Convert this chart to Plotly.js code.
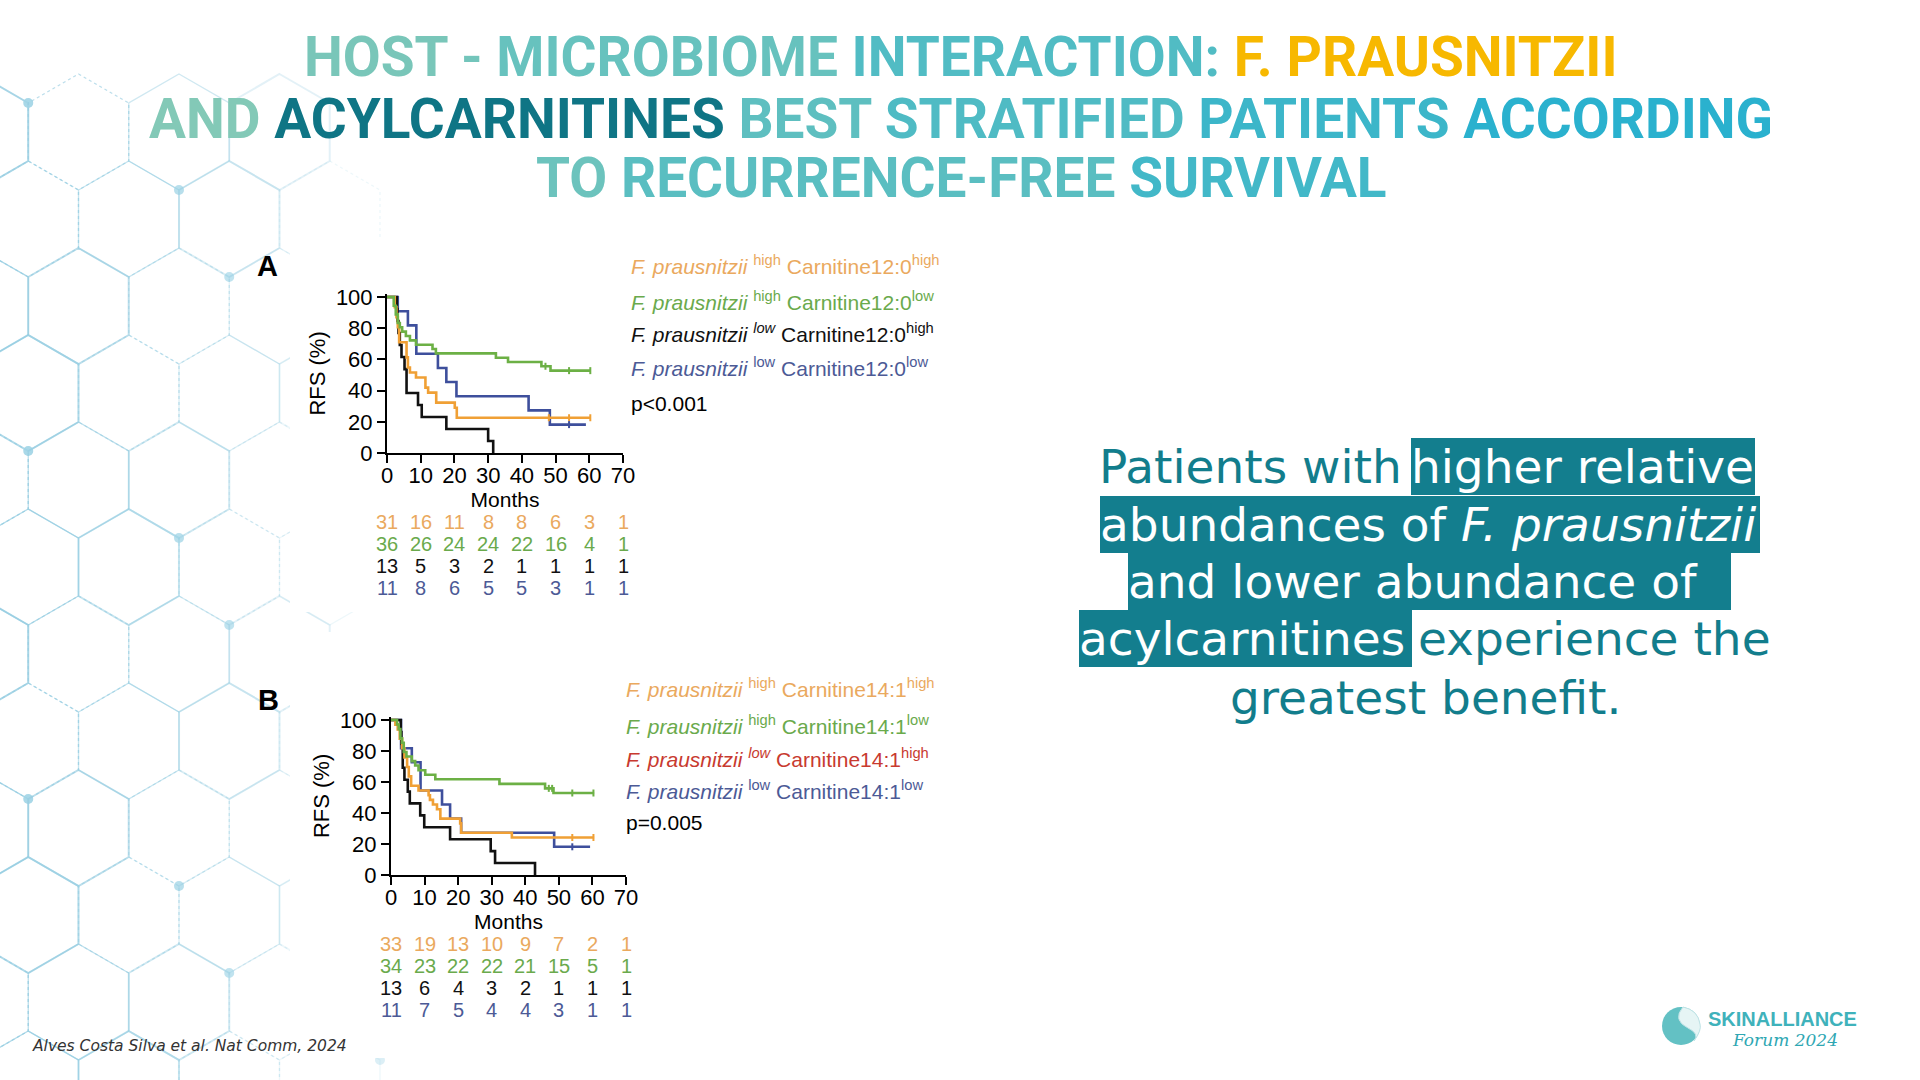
<!DOCTYPE html>
<html><head><meta charset="utf-8">
<script src="https://cdn.plot.ly/plotly-3.0.1.min.js"></script>
<style>html,body{margin:0;padding:0;background:#fff;overflow:hidden}#chart{width:1920px;height:1080px}</style>
</head><body><div id="chart"></div>
<script>
const W = 1920, H = 1080;

// ---------- DATA ----------
const months = [0, 10, 20, 30, 40, 50, 60, 70];
const rfsTicks = [0, 20, 40, 60, 80, 100];

// Panel A (Carnitine12:0) Kaplan-Meier steps
const aOrangeT = [0, 2.3, 2.8, 3.2, 3.6, 5.8, 6.2, 6.8, 8.6, 11.4, 12.2, 14.6, 20.1, 20.7, 60.5];
const aOrangeS = [100, 93.5, 87.1, 80.6, 71.0, 61.3, 54.8, 51.6, 48.4, 41.9, 38.7, 32.3, 29.0, 22.6, 22.6];
const aGreenT = [0, 2.0, 2.6, 3.2, 3.8, 4.5, 5.6, 6.8, 8.6, 13.5, 14.5, 32.3, 35.9, 45.8, 48.5, 60.5];
const aGreenS = [100, 94.4, 88.9, 83.3, 80.6, 77.8, 75.0, 72.2, 69.4, 66.7, 63.9, 61.1, 58.3, 55.6, 52.8, 52.8];
const aBlackT = [0, 2.9, 3.1, 3.4, 3.8, 4.3, 5.2, 5.8, 9.2, 10.3, 17.6, 30.0, 31.5];
const aBlackS = [100, 92.3, 84.6, 76.9, 69.2, 61.5, 53.8, 38.5, 30.8, 23.1, 15.4, 7.7, 0];
const aBlueT = [0, 3.2, 6.2, 8.7, 15.1, 17.6, 20.6, 42.0, 48.3, 59.0];
const aBlueS = [100, 90.9, 81.8, 63.6, 54.5, 45.5, 36.4, 27.3, 18.2, 18.2];
const aGreenCensT = [47, 54, 60.3], aGreenCensS = [55.6, 52.8, 52.8];
const aOrangeCensT = [48, 54, 60.3], aOrangeCensS = [22.6, 22.6, 22.6];
const aBlueCensT = [54], aBlueCensS = [18.2];

// Panel B (Carnitine14:1)
const bOrangeT = [0, 1.3, 2.0, 2.6, 3.3, 4.0, 4.8, 5.3, 6.0, 8.2, 11.2, 11.6, 12.5, 13.7, 14.7, 20.6, 20.9, 36.0, 60.5];
const bOrangeS = [100, 97.0, 93.9, 87.9, 81.8, 75.8, 69.7, 63.6, 57.6, 54.5, 51.5, 48.5, 45.5, 42.4, 36.4, 33.3, 27.3, 24.2, 24.2];
const bGreenT = [0, 1.8, 2.3, 2.8, 3.3, 3.8, 4.6, 6.2, 7.2, 8.2, 10.2, 13.2, 32.3, 45.9, 48.4, 60.5];
const bGreenS = [100, 97.1, 94.1, 88.2, 85.3, 79.4, 76.5, 73.5, 70.6, 67.6, 64.7, 61.8, 58.8, 55.9, 52.9, 52.9];
const bBlackT = [0, 2.9, 3.1, 3.5, 4.0, 5.0, 5.6, 8.7, 9.9, 17.6, 29.7, 31.0, 42.9];
const bBlackS = [100, 92.3, 84.6, 69.2, 61.5, 53.8, 46.2, 38.5, 30.8, 23.1, 15.4, 7.7, 0];
const bBlueT = [0, 3.0, 6.2, 8.8, 15.2, 17.6, 20.9, 48.6, 59.3];
const bBlueS = [100, 81.8, 72.7, 54.5, 45.5, 36.4, 27.3, 18.2, 18.2];
const bGreenCensT = [47, 48, 54, 60.3], bGreenCensS = [55.9, 55.9, 52.9, 52.9];
const bOrangeCensT = [54, 60.3], bOrangeCensS = [24.2, 24.2];
const bBlueCensT = [54], bBlueCensS = [18.2];

// Numbers at risk
const aRiskOrange = [31, 16, 11, 8, 8, 6, 3, 1];
const aRiskGreen  = [36, 26, 24, 24, 22, 16, 4, 1];
const aRiskBlack  = [13, 5, 3, 2, 1, 1, 1, 1];
const aRiskBlue   = [11, 8, 6, 5, 5, 3, 1, 1];
const bRiskOrange = [33, 19, 13, 10, 9, 7, 2, 1];
const bRiskGreen  = [34, 23, 22, 22, 21, 15, 5, 1];
const bRiskBlack  = [13, 6, 4, 3, 2, 1, 1, 1];
const bRiskBlue   = [11, 7, 5, 4, 4, 3, 1, 1];

// Legend labels
const aLegend = [
  "<i>F. prausnitzii</i> <sup>high</sup> Carnitine12:0<sup>high</sup>",
  "<i>F. prausnitzii</i> <sup>high</sup> Carnitine12:0<sup>low</sup>",
  "<i>F. prausnitzii <sup>low</sup></i> Carnitine12:0<sup>high</sup>",
  "<i>F. prausnitzii</i> <sup>low</sup> Carnitine12:0<sup>low</sup>",
  "p&lt;0.001"
];
const bLegend = [
  "<i>F. prausnitzii</i> <sup>high</sup> Carnitine14:1<sup>high</sup>",
  "<i>F. prausnitzii</i> <sup>high</sup> Carnitine14:1<sup>low</sup>",
  "<i>F. prausnitzii <sup>low</sup></i> Carnitine14:1<sup>high</sup>",
  "<i>F. prausnitzii</i> <sup>low</sup> Carnitine14:1<sup>low</sup>",
  "p=0.005"
];

// ---------- STYLE ----------
const cOrange = '#f0a035', cGreen = '#6cb045', cBlack = '#111111', cBlue = '#3e4f9c';
const lOrange = '#eaa95e', lGreen = '#6aaa4c', lBlack = '#111111', lBlue = '#4c5a96', lRed = '#c83a2f';
const arial = 'Liberation Sans, Arial, sans-serif';
const teal = '#127d8c';

function px2x(p) { return p / W; }
function px2y(p) { return 1 - p / H; }

function kmTrace(t, s, color, xa, ya) {
  return { x: t, y: s, xaxis: xa, yaxis: ya, type: 'scatter', mode: 'lines',
    line: { shape: 'hv', color: color, width: 2.6 }, hoverinfo: 'skip', showlegend: false, cliponaxis: false };
}
function censTrace(t, s, color, xa, ya) {
  return { x: t, y: s, xaxis: xa, yaxis: ya, type: 'scatter', mode: 'markers',
    marker: { symbol: 'line-ns-open', size: 5, color: color, line: { width: 2, color: color } },
    hoverinfo: 'skip', showlegend: false, cliponaxis: false };
}

const data = [
  kmTrace(aBlueT, aBlueS, cBlue, 'x', 'y'),
  kmTrace(aBlackT, aBlackS, cBlack, 'x', 'y'),
  kmTrace(aOrangeT, aOrangeS, cOrange, 'x', 'y'),
  kmTrace(aGreenT, aGreenS, cGreen, 'x', 'y'),
  censTrace(aGreenCensT, aGreenCensS, cGreen, 'x', 'y'),
  censTrace(aOrangeCensT, aOrangeCensS, cOrange, 'x', 'y'),
  censTrace(aBlueCensT, aBlueCensS, cBlue, 'x', 'y'),
  kmTrace(bBlueT, bBlueS, cBlue, 'x2', 'y2'),
  kmTrace(bBlackT, bBlackS, cBlack, 'x2', 'y2'),
  kmTrace(bOrangeT, bOrangeS, cOrange, 'x2', 'y2'),
  kmTrace(bGreenT, bGreenS, cGreen, 'x2', 'y2'),
  censTrace(bGreenCensT, bGreenCensS, cGreen, 'x2', 'y2'),
  censTrace(bOrangeCensT, bOrangeCensS, cOrange, 'x2', 'y2'),
  censTrace(bBlueCensT, bBlueCensS, cBlue, 'x2', 'y2')
];

function axX(domain, anchor) {
  return { domain: domain, anchor: anchor, range: [0, 70], tickvals: months, ticks: 'outside', ticklen: 8,
    tickwidth: 2, tickcolor: '#000', showline: true, linewidth: 2, linecolor: '#000', showgrid: false,
    zeroline: false, tickfont: { family: arial, size: 22, color: '#000' }, ticklabelstandoff: -6,
    title: { text: 'Months', font: { family: arial, size: 21, color: '#000' }, standoff: 0 }, fixedrange: true };
}
function axY(domain, anchor) {
  return { domain: domain, anchor: anchor, range: [0, 102], tickvals: rfsTicks, ticks: 'outside', ticklen: 8,
    tickwidth: 2, tickcolor: '#000', showline: true, linewidth: 2, linecolor: '#000', showgrid: false,
    zeroline: false, tickfont: { family: arial, size: 22, color: '#000' },
    title: { text: 'RFS (%)', font: { family: arial, size: 22, color: '#000' }, standoff: 4 }, fixedrange: true };
}

// ---------- DECORATION (hexagon background) ----------
const shapes = [];
function hexPath(cx, cy, r) {
  let p = '';
  for (let k = 0; k < 6; k++) {
    const a = Math.PI / 180 * (60 * k - 90);
    const x = cx + r * Math.cos(a), y = cy + r * Math.sin(a);
    p += (k ? 'L' : 'M') + px2x(x).toFixed(5) + ',' + px2y(y).toFixed(5);
  }
  return p + 'Z';
}
const hr = 58, hdx = 100.5, hdy = 87;
for (let j = -1; j < 14; j++) {
  for (let i = 0; i < 5; i++) {
    const cx = -22 + i * hdx + (j % 2 ? hdx / 2 : 0);
    const cy = 132 + j * hdy;
    if (cx > 340 || cy < 60) continue;
    const op = Math.max(0.08, 0.8 * (1 - cx / 420));
    shapes.push({ type: 'path', xref: 'paper', yref: 'paper', layer: 'below', path: hexPath(cx, cy, hr),
      line: { color: 'rgba(150,205,225,' + op.toFixed(2) + ')', width: (i + j) % 3 === 0 ? 2 : 1.3,
        dash: (i + j) % 3 === 1 ? 'dot' : 'solid' } });
    if ((i * 3 + j) % 4 === 0) {
      const dx = cx + hr * Math.cos(Math.PI / 6), dy = cy - hr * 0.5;
      shapes.push({ type: 'circle', xref: 'paper', yref: 'paper', layer: 'below',
        x0: px2x(dx - 5), x1: px2x(dx + 5), y0: px2y(dy + 5), y1: px2y(dy - 5),
        fillcolor: 'rgba(160,212,230,' + Math.min(0.9, op + 0.2).toFixed(2) + ')', line: { width: 0 } });
    }
  }
}
// white panels behind the two figures
shapes.push({ type: 'rect', xref: 'paper', yref: 'paper', layer: 'below', x0: px2x(290), x1: px2x(968), y0: px2y(612), y1: px2y(238), fillcolor: '#ffffff', line: { width: 0 } });
shapes.push({ type: 'rect', xref: 'paper', yref: 'paper', layer: 'below', x0: px2x(290), x1: px2x(972), y0: px2y(1058), y1: px2y(632), fillcolor: '#ffffff', line: { width: 0 } });
// logo circle
shapes.push({ type: 'circle', xref: 'paper', yref: 'paper', x0: px2x(1662), x1: px2x(1700), y0: px2y(1045), y1: px2y(1007), fillcolor: '#63c1c4', line: { width: 0 } });
shapes.push({ type: 'path', xref: 'paper', yref: 'paper',
  path: 'M' + px2x(1683) + ',' + px2y(1007) + ' Q' + px2x(1672) + ',' + px2y(1020) + ' ' + px2x(1688) + ',' + px2y(1028) +
        ' Q' + px2x(1700) + ',' + px2y(1034) + ' ' + px2x(1694) + ',' + px2y(1041) +
        ' Q' + px2x(1702) + ',' + px2y(1030) + ' ' + px2x(1700) + ',' + px2y(1024) +
        ' Q' + px2x(1698) + ',' + px2y(1010) + ' ' + px2x(1683) + ',' + px2y(1007) + 'Z',
  fillcolor: '#e6f5f5', line: { color: '#bfe3e6', width: 1 } });

// ---------- TEXT ----------
const annotations = [];
function hexToRgb(h) { return [parseInt(h.substr(1, 2), 16), parseInt(h.substr(3, 2), 16), parseInt(h.substr(5, 2), 16)]; }
const gL = hexToRgb('#86cab6'), gR = hexToRgb('#22afd0');
function colorAt(p) {
  const t = Math.max(0, Math.min(1, (p - 144) / (1778 - 144)));
  const c = gL.map((v, k) => Math.round(v + (gR[k] - v) * t));
  return 'rgb(' + c.join(',') + ')';
}
function buildLine(segs, xL, xR) {
  const n = segs.map(s => s.t).join('').length;
  let idx = 0, out = '';
  segs.forEach(s => {
    if (s.c) { out += '<span style="color:' + s.c + '">' + s.t + '</span>'; idx += s.t.length; return; }
    s.t.split(/( )/).forEach(p => {
      if (p === '' || p === ' ') { out += p; idx += p.length; return; }
      const mid = idx + p.length / 2;
      out += '<span style="color:' + colorAt(xL + (xR - xL) * mid / n) + '">' + p + '</span>';
      idx += p.length;
    });
  });
  return out;
}
const titleLines = [
  { segs: [{ t: 'HOST - MICROBIOME INTERACTION: ' }, { t: 'F. PRAUSNITZII', c: '#f7b800' }], xL: 300, xR: 1622, y: 57 },
  { segs: [{ t: 'AND ' }, { t: 'ACYLCARNITINES', c: '#0f7585' }, { t: ' BEST STRATIFIED PATIENTS ACCORDING' }], xL: 144, xR: 1778, y: 119 },
  { segs: [{ t: 'TO RECURRENCE-FREE SURVIVAL' }], xL: 535, xR: 1386, y: 178 }
];
titleLines.forEach(L => {
  annotations.push({ xref: 'paper', yref: 'paper', x: px2x(961), y: px2y(L.y), xanchor: 'center', yanchor: 'middle',
    showarrow: false, text: buildLine(L.segs, L.xL, L.xR),
    font: { family: 'Roboto, sans-serif', size: 55, weight: 700, color: '#7fc8bb' } });
});

// panel letters
annotations.push({ xref: 'paper', yref: 'paper', x: px2x(267), y: px2y(266), xanchor: 'center', yanchor: 'middle', showarrow: false,
  text: '<b>A</b>', font: { family: arial, size: 29, color: '#000' } });
annotations.push({ xref: 'paper', yref: 'paper', x: px2x(268), y: px2y(700), xanchor: 'center', yanchor: 'middle', showarrow: false,
  text: '<b>B</b>', font: { family: arial, size: 29, color: '#000' } });

// legends
const aLegColors = [lOrange, lGreen, lBlack, lBlue, '#000'];
const aLegY = [265, 301, 333, 367, 404];
aLegend.forEach((t, k) => annotations.push({ xref: 'paper', yref: 'paper', x: px2x(629), y: px2y(aLegY[k]), xanchor: 'left', yanchor: 'middle',
  showarrow: false, text: t, font: { family: arial, size: 21, color: aLegColors[k] } }));
const bLegColors = [lOrange, lGreen, lRed, lBlue, '#000'];
const bLegY = [688, 725, 758, 790, 822];
bLegend.forEach((t, k) => annotations.push({ xref: 'paper', yref: 'paper', x: px2x(624), y: px2y(bLegY[k]), xanchor: 'left', yanchor: 'middle',
  showarrow: false, text: t, font: { family: arial, size: 21, color: bLegColors[k] } }));

// risk tables
function riskRow(vals, color, xa, yPx) {
  vals.forEach((v, k) => annotations.push({ xref: xa, yref: 'paper', x: months[k], y: px2y(yPx), xanchor: 'center', yanchor: 'middle',
    showarrow: false, text: String(v), font: { family: arial, size: 20, color: color } }));
}
riskRow(aRiskOrange, lOrange, 'x', 522);
riskRow(aRiskGreen, lGreen, 'x', 544);
riskRow(aRiskBlack, lBlack, 'x', 566);
riskRow(aRiskBlue, lBlue, 'x', 588);
riskRow(bRiskOrange, lOrange, 'x2', 944);
riskRow(bRiskGreen, lGreen, 'x2', 966);
riskRow(bRiskBlack, lBlack, 'x2', 988);
riskRow(bRiskBlue, lBlue, 'x2', 1010);

// right-hand message
const msgFont = { family: 'DejaVu Sans, sans-serif', size: 47, color: teal };
const hiFont = { family: 'DejaVu Sans, sans-serif', size: 47, color: '#ffffff' };
const hiBg = '#137e8e';
annotations.push({ xref: 'paper', yref: 'paper', x: px2x(1404), y: px2y(467), xanchor: 'right', yanchor: 'middle', showarrow: false,
  text: 'Patients with', font: msgFont });
[
  { t: 'higher relative', x0: 1411, w: 344, yc: 467 },
  { t: 'abundances of <i>F. prausnitzii</i>', x0: 1100, w: 660, yc: 524.5 },
  { t: 'and lower abundance of', x0: 1128, w: 603, yc: 581.5 },
  { t: 'acylcarnitines', x0: 1079, w: 333, yc: 638.5 }
].forEach(b => annotations.push({ xref: 'paper', yref: 'paper', x: px2x(b.x0), y: px2y(b.yc), xanchor: 'left', yanchor: 'middle',
  showarrow: false, text: b.t, font: hiFont, bgcolor: hiBg, borderpad: 0, borderwidth: 0, width: b.w, height: 57, align: 'left' }));
annotations.push({ xref: 'paper', yref: 'paper', x: px2x(1416), y: px2y(638.5), xanchor: 'left', yanchor: 'middle', showarrow: false,
  text: 'experience the', font: msgFont });
annotations.push({ xref: 'paper', yref: 'paper', x: px2x(1425), y: px2y(697), xanchor: 'center', yanchor: 'middle', showarrow: false,
  text: 'greatest benefit.', font: msgFont });

// footnote
annotations.push({ xref: 'paper', yref: 'paper', x: px2x(30), y: px2y(1046), xanchor: 'left', yanchor: 'middle', showarrow: false,
  text: '<i>Alves Costa Silva et al. Nat Comm, 2024</i>', font: { family: 'DejaVu Sans, sans-serif', size: 15.5, color: '#333333' } });

// logo text
annotations.push({ xref: 'paper', yref: 'paper', x: px2x(1706), y: px2y(1019), xanchor: 'left', yanchor: 'middle', showarrow: false,
  text: '<b>SKINALLIANCE</b>', font: { family: arial, size: 20, color: '#3fb2bb' } });
annotations.push({ xref: 'paper', yref: 'paper', x: px2x(1730), y: px2y(1040), xanchor: 'left', yanchor: 'middle', showarrow: false,
  text: '<i>Forum 2024</i>', font: { family: 'DejaVu Serif, serif', size: 17, color: '#2fa7b3' } });

const layout = {
  width: W, height: H, margin: { l: 0, r: 0, t: 0, b: 0 }, paper_bgcolor: '#ffffff', plot_bgcolor: 'rgba(0,0,0,0)',
  showlegend: false,
  xaxis: axX([px2x(387), px2x(623)], 'y'),
  yaxis: axY([px2y(453), px2y(293.9)], 'x'),
  xaxis2: axX([px2x(391), px2x(626)], 'y2'),
  yaxis2: axY([px2y(875), px2y(716.9)], 'x2'),
  shapes: shapes, annotations: annotations
};

Plotly.newPlot('chart', data, layout, { displayModeBar: false, staticPlot: true });
</script></body></html>
